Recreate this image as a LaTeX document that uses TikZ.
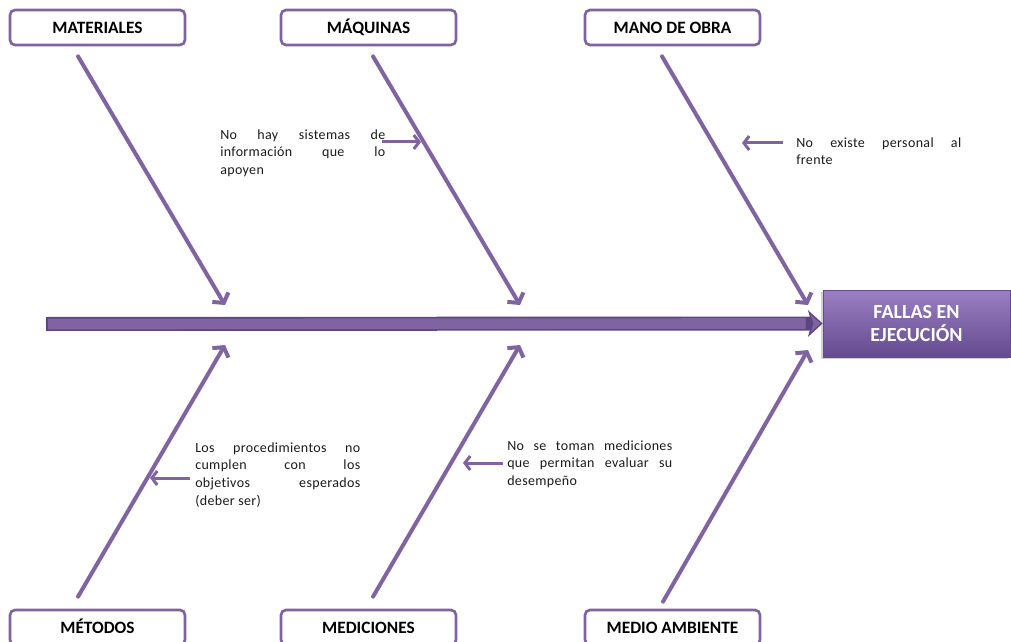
\documentclass[tikz,border=0pt]{standalone}
\usepackage{fontspec}
\setmainfont{Carlito}
\usetikzlibrary{arrows.meta,calc,shadows}
\definecolor{purp}{HTML}{8064A2}
\definecolor{purpdark}{HTML}{5C4682}
\definecolor{purptop}{HTML}{9A80C3}
\definecolor{purpbot}{HTML}{654A8F}
\definecolor{notetext}{HTML}{1A1A1A}
\begin{document}
\begin{tikzpicture}[x=0.75pt,y=-0.75pt,
  catbox/.style={draw=purp, line width=2pt, rounded corners=3.75pt, fill=white,
    minimum width=131.25pt, minimum height=26.25pt, inner sep=0pt,
    text height=9pt, text depth=0.6pt,
    font=\bfseries\fontsize{13}{15}\selectfont},
  effectbox/.style={draw=purpbot, line width=0.6pt, top color=purptop, bottom color=purpbot,
    minimum width=140.25pt, minimum height=50.25pt, inner sep=0pt, align=center,
    text=white, font=\bfseries\fontsize{15}{17.5}\selectfont,
    drop shadow={shadow xshift=-1.5pt, shadow yshift=-1.5pt, opacity=0.35}},
  note/.style={text width=123.75pt, align=justify, inner sep=0pt, text=notetext,
    font=\fontsize{10.5}{13.3}\selectfont\addfontfeature{LetterSpace=2.5,Ligatures=NoCommon}},
  bone/.style={draw=purp, line width=3pt, line cap=round,
    -{Straight Barb[length=5pt,width=14pt,line width=3pt]}},
  pointer/.style={draw=purp, line width=2.25pt,
    -{Straight Barb[length=4pt,width=10.5pt,line width=2.25pt]}},
  spinebar/.style={draw=purpdark, line width=10.5pt,
    -{Stealth[length=11pt,width=20pt,inset=3pt,fill=purp,line width=1pt]}},
  spinecore/.style={draw=purp, line width=8pt}
]
\useasboundingbox (0,0) rectangle (1011,642);

% cause categories
\node[catbox] (mat) at (97.5,27.5) {MATERIALES};
\node[catbox] (maq) at (368.5,27.5) {MÁQUINAS};
\node[catbox] (mano) at (672.5,27.5) {MANO DE OBRA};
\node[catbox] (met) at (97.5,627.5) {MÉTODOS};
\node[catbox] (med) at (368.5,627.5) {MEDICIONES};
\node[catbox] (amb) at (672.5,627.5) {MEDIO AMBIENTE};

% effect
\node[effectbox] (res) at (916.5,323.5) {FALLAS EN\\EJECUCIÓN};

% spine
\coordinate (tail) at (46,324);
\draw[spinebar] (tail) -- (res.west);
\draw[spinecore] ($(tail)+(2,0)$) -- ($(res.west)+(-17,0)$);

% points where the bones meet the spine
\coordinate (j1) at (225,305);
\coordinate (j2) at (520,305);
\coordinate (j3) at (808,305);
\coordinate (j4) at (225,345);
\coordinate (j5) at (520,345);
\coordinate (j6) at (808,350);

% bones
\draw[bone] ($(mat.south)+(-19.5,10)$) -- (j1);
\draw[bone] ($(maq.south)+(4.5,10)$) -- (j2);
\draw[bone] ($(mano.south)+(-10.5,10)$) -- (j3);
\draw[bone] ($(met.north)+(-19.5,-12)$) -- (j4);
\draw[bone] ($(med.north)+(4.5,-12)$) -- (j5);
\draw[bone] ($(amb.north)+(-9.5,-7)$) -- (j6);

% notes
\node[note, anchor=base west] (nmaq) at (220,139)
  {No hay sistemas de\linebreak información que lo\linebreak apoyen};
\node[note, anchor=base west] (nmano) at (796,147)
  {No existe personal al\linebreak frente};
\node[note, anchor=base west] (nmet) at (195,452)
  {Los procedimientos no\linebreak cumplen con los\linebreak objetivos esperados\linebreak (deber ser)};
\node[note, anchor=base west] (nmed) at (507,450)
  {No se toman mediciones\linebreak que permitan evaluar su\linebreak desempeño};

% pointers from the notes to their bones
\coordinate (p1a) at (382,142);
\coordinate (p1b) at (421,142);
\coordinate (p2a) at (783,143);
\coordinate (p2b) at (742,143);
\coordinate (p3a) at (190,478);
\coordinate (p3b) at (150,478);
\coordinate (p4a) at (503,463);
\coordinate (p4b) at (463,463);
\draw[pointer] (p1a) -- (p1b);
\draw[pointer] (p2a) -- (p2b);
\draw[pointer] (p3a) -- (p3b);
\draw[pointer] (p4a) -- (p4b);
\end{tikzpicture}
\end{document}
